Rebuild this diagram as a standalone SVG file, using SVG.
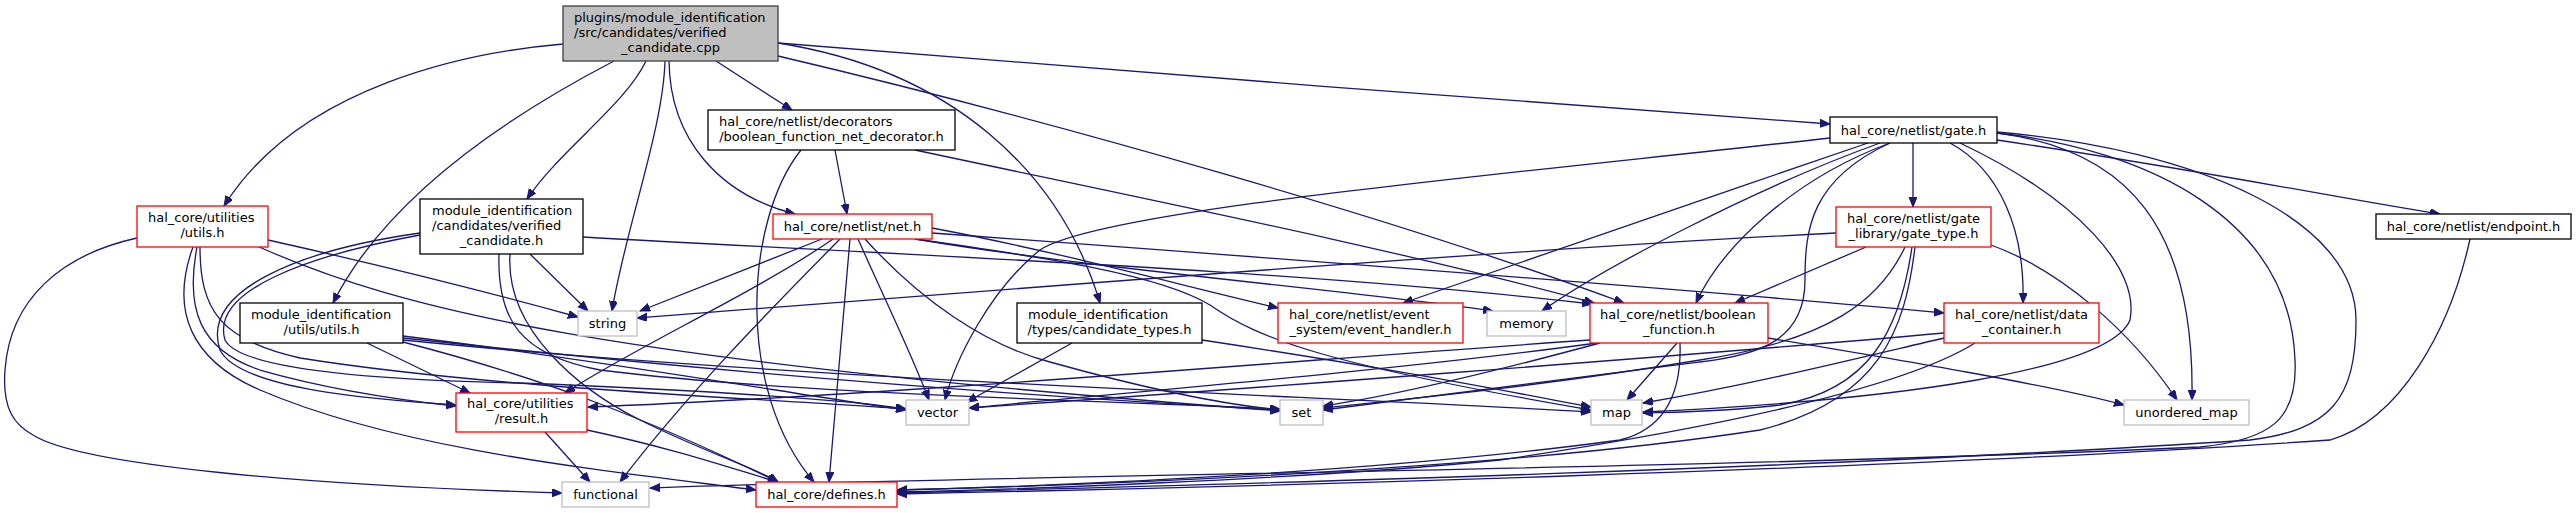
<svg xmlns="http://www.w3.org/2000/svg" width="2576" height="513" viewBox="0 0 2576 513">
<style>
.e{fill:none;stroke:#191970;stroke-width:1.3;marker-end:url(#ah)}
.bk{fill:#fff;stroke:#000;stroke-width:1.3}
.rd{fill:#fff;stroke:#f00;stroke-width:1.3}
.gy{fill:#fff;stroke:#bfbfbf;stroke-width:1.3}
.rt{fill:#bfbfbf;stroke:#404040;stroke-width:1.3}
text{font-family:"DejaVu Sans","Liberation Sans",sans-serif;font-size:13px;fill:#000}
.m{text-anchor:middle}
</style>
<defs>
<marker id="ah" markerUnits="userSpaceOnUse" markerWidth="11" markerHeight="9" refX="10" refY="4" orient="auto">
<path d="M0,0 L10,4 L0,8 z" fill="#191970" stroke="#191970" stroke-width="1"/>
</marker>
</defs>
<rect width="2576" height="513" fill="#fff"/>
<g id="edges">
<path class="e" d="M563,44 C470,52 300,85 224,206"/>
<path class="e" d="M614,61 C520,110 390,190 333,303"/>
<path class="e" d="M646,61 C625,105 560,150 527,199"/>
<path class="e" d="M665,61 C663,130 625,230 612,311"/>
<path class="e" d="M669,61 C670,140 720,195 795,214"/>
<path class="e" d="M716,61 L792,110"/>
<path class="e" d="M778,43 C950,70 1060,170 1100,303"/>
<path class="e" d="M778,56 C1050,120 1400,220 1624,303"/>
<path class="e" d="M778,43 C1100,70 1500,100 1830,124"/>
<path class="e" d="M835,150 L847,214"/>
<path class="e" d="M801,150 C745,220 735,390 814,482"/>
<path class="e" d="M915,150 C1150,200 1400,250 1594,303"/>
<path class="e" d="M268,240 C380,265 480,290 578,317"/>
<path class="e" d="M257,246 C400,310 600,360 1280,411"/>
<path class="e" d="M137,238 C60,255 10,300 5,370 C2,410 15,425 33,435 C80,465 300,485 562,493"/>
<path class="e" d="M193,247 C170,310 190,360 260,390 C400,450 600,470 756,490"/>
<path class="e" d="M197,247 C185,310 200,350 260,370 C330,390 400,400 456,406"/>
<path class="e" d="M200,247 C200,310 220,340 300,358 C500,390 800,400 906,409"/>
<path class="e" d="M530,254 L588,311"/>
<path class="e" d="M420,233 C300,250 200,290 220,350 C240,390 380,400 456,405"/>
<path class="e" d="M420,235 C310,255 210,290 225,340 C240,370 380,380 520,383 C700,390 850,400 906,409"/>
<path class="e" d="M510,254 C505,330 580,390 640,420 C700,450 760,470 778,482"/>
<path class="e" d="M499,254 C497,320 520,355 600,370 C800,395 1100,400 1280,409"/>
<path class="e" d="M583,237 C900,255 1300,270 1592,304"/>
<path class="e" d="M367,343 L470,393"/>
<path class="e" d="M403,336 C600,360 800,395 906,410"/>
<path class="e" d="M403,338 C700,370 1000,395 1280,410"/>
<path class="e" d="M403,340 C800,380 1300,395 1591,412"/>
<path class="e" d="M403,342 C550,380 650,420 778,482"/>
<path class="e" d="M822,239 L640,311"/>
<path class="e" d="M833,239 C760,290 630,350 565,393"/>
<path class="e" d="M840,239 C780,300 690,390 620,482"/>
<path class="e" d="M850,239 L829,482"/>
<path class="e" d="M858,239 C885,300 910,350 929,400"/>
<path class="e" d="M865,239 C920,300 985,345 1050,362 C1150,390 1230,405 1280,410"/>
<path class="e" d="M932,228 C1050,250 1180,285 1278,308"/>
<path class="e" d="M915,239 C1100,270 1350,290 1493,311"/>
<path class="e" d="M932,233 C1300,260 1700,290 1944,313"/>
<path class="e" d="M915,239 C1050,258 1160,275 1210,305 C1260,340 1330,365 1591,410"/>
<path class="e" d="M1913,143 L1913,207"/>
<path class="e" d="M1997,140 C2200,170 2350,200 2440,214"/>
<path class="e" d="M1890,143 C1790,180 1720,250 1696,303"/>
<path class="e" d="M1880,143 C1750,190 1600,270 1542,311"/>
<path class="e" d="M1868,143 C1700,200 1500,270 1403,303"/>
<path class="e" d="M1830,138 C1500,175 1100,210 1040,250 C990,290 955,360 945,400"/>
<path class="e" d="M1890,143 C1810,180 1805,230 1805,280 C1805,340 1760,355 1700,362 C1550,380 1400,400 1323,410"/>
<path class="e" d="M1960,143 C2080,200 2140,270 2130,320 C2110,370 1900,400 1643,412"/>
<path class="e" d="M1950,143 C2000,170 2025,230 2023,303"/>
<path class="e" d="M1997,133 C2130,150 2195,230 2192,400"/>
<path class="e" d="M1997,133 C2150,150 2290,220 2295,360 C2298,420 2270,440 2200,447 C1700,470 1000,475 650,488"/>
<path class="e" d="M1997,132 C2200,150 2356,220 2356,320 C2356,400 2330,430 2250,440 C1800,470 1200,485 897,493"/>
<path class="e" d="M2470,239 C2450,330 2400,420 2330,440 C1900,470 1200,488 897,494"/>
<path class="e" d="M1836,233 C1500,250 1000,290 637,318"/>
<path class="e" d="M1866,247 L1735,303"/>
<path class="e" d="M1905,247 C1880,300 1830,340 1700,360 C1550,385 1400,400 1323,408"/>
<path class="e" d="M1912,247 C1900,330 1870,390 1780,405 C1720,412 1680,412 1643,413"/>
<path class="e" d="M1991,245 C2060,270 2130,330 2177,400"/>
<path class="e" d="M1915,247 C1905,330 1880,400 1760,430 C1500,470 1100,485 897,490"/>
<path class="e" d="M1677,343 L1627,400"/>
<path class="e" d="M1768,338 C1900,360 2050,385 2124,405"/>
<path class="e" d="M1680,343 C1682,400 1660,430 1620,440 C1400,470 1100,485 897,490"/>
<path class="e" d="M1590,340 C1300,360 900,395 588,407"/>
<path class="e" d="M1597,343 C1400,370 1100,395 969,408"/>
<path class="e" d="M1600,343 C1500,370 1400,395 1323,406"/>
<path class="e" d="M1944,338 C1850,360 1750,385 1643,403"/>
<path class="e" d="M1975,343 C1900,390 1700,430 1500,460 C1300,480 1000,490 897,492"/>
<path class="e" d="M1944,333 C1700,355 1200,392 969,408"/>
<path class="e" d="M1072,343 L967,402"/>
<path class="e" d="M1202,340 C1400,370 1500,390 1591,407"/>
<path class="e" d="M545,432 L590,482"/>
<path class="e" d="M587,430 C680,450 730,468 778,482"/>
</g>
<g id="node-root"><rect class="rt" x="563" y="6" width="215" height="55"/><text x="574" y="22">plugins/module_identification</text><text x="574" y="37">/src/candidates/verified</text><text class="m" x="670.5" y="52">_candidate.cpp</text></g>
<g id="node-utils"><rect class="rd" x="137" y="206" width="131" height="41"/><text x="148" y="222">hal_core/utilities</text><text class="m" x="202.5" y="237">/utils.h</text></g>
<g id="node-verified"><rect class="bk" x="420" y="199" width="163" height="55"/><text x="432" y="215">module_identification</text><text x="432" y="230">/candidates/verified</text><text class="m" x="501.5" y="245">_candidate.h</text></g>
<g id="node-decorator"><rect class="bk" x="708" y="110" width="247" height="40"/><text x="719" y="126">hal_core/netlist/decorators</text><text class="m" x="831.5" y="141">/boolean_function_net_decorator.h</text></g>
<g id="node-net"><rect class="rd" x="773" y="214" width="159" height="25"/><text class="m" x="852.5" y="231">hal_core/netlist/net.h</text></g>
<g id="node-gate"><rect class="bk" x="1830" y="117" width="167" height="26"/><text class="m" x="1913.5" y="134.5">hal_core/netlist/gate.h</text></g>
<g id="node-miutils"><rect class="bk" x="240" y="303" width="163" height="40"/><text x="251" y="319">module_identification</text><text class="m" x="321.5" y="334">/utils/utils.h</text></g>
<g id="node-string"><rect class="gy" x="578" y="311" width="59" height="25"/><text class="m" x="607.5" y="328">string</text></g>
<g id="node-result"><rect class="rd" x="456" y="393" width="131" height="39"/><text x="467" y="408">hal_core/utilities</text><text class="m" x="521.5" y="423">/result.h</text></g>
<g id="node-functional"><rect class="gy" x="562" y="482" width="87" height="25"/><text class="m" x="605.5" y="499">functional</text></g>
<g id="node-defines"><rect class="rd" x="756" y="482" width="141" height="25"/><text class="m" x="826.5" y="499">hal_core/defines.h</text></g>
<g id="node-vector"><rect class="gy" x="906" y="400" width="63" height="25"/><text class="m" x="937.5" y="417">vector</text></g>
<g id="node-ctypes"><rect class="bk" x="1017" y="303" width="185" height="40"/><text x="1028" y="319">module_identification</text><text class="m" x="1109.5" y="334">/types/candidate_types.h</text></g>
<g id="node-event"><rect class="rd" x="1278" y="303" width="185" height="40"/><text x="1289" y="319">hal_core/netlist/event</text><text class="m" x="1370.5" y="334">_system/event_handler.h</text></g>
<g id="node-set"><rect class="gy" x="1280" y="400" width="43" height="25"/><text class="m" x="1301.5" y="417">set</text></g>
<g id="node-memory"><rect class="gy" x="1487" y="311" width="79" height="25"/><text class="m" x="1526.5" y="328">memory</text></g>
<g id="node-boolfn"><rect class="rd" x="1590" y="303" width="178" height="40"/><text x="1600" y="319">hal_core/netlist/boolean</text><text class="m" x="1679" y="334">_function.h</text></g>
<g id="node-datacont"><rect class="rd" x="1944" y="303" width="155" height="40"/><text x="1955" y="319">hal_core/netlist/data</text><text class="m" x="2021.5" y="334">_container.h</text></g>
<g id="node-map"><rect class="gy" x="1591" y="400" width="51" height="25"/><text class="m" x="1616.5" y="417">map</text></g>
<g id="node-umap"><rect class="gy" x="2124" y="400" width="125" height="25"/><text class="m" x="2186.5" y="417">unordered_map</text></g>
<g id="node-gatetype"><rect class="rd" x="1836" y="207" width="155" height="40"/><text x="1847" y="223">hal_core/netlist/gate</text><text class="m" x="1913.5" y="238">_library/gate_type.h</text></g>
<g id="node-endpoint"><rect class="bk" x="2376" y="214" width="195" height="25"/><text class="m" x="2473.5" y="231">hal_core/netlist/endpoint.h</text></g>
</svg>
